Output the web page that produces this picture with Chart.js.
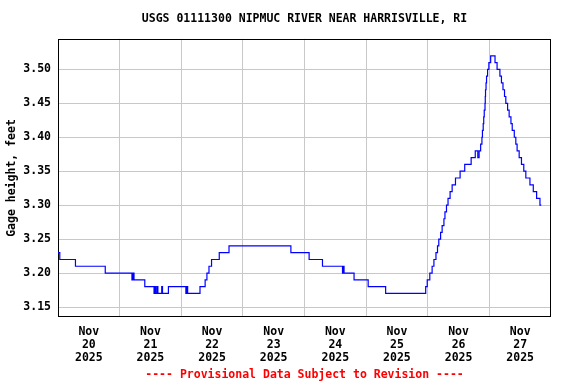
<!DOCTYPE html>
<html>
<head>
<meta charset="utf-8">
<script src="https://cdn.jsdelivr.net/npm/chart.js@4/dist/chart.umd.min.js"></script>
<style>
  html, body { margin: 0; padding: 0; background: #fff; }
  #wrap { width: 576px; height: 384px; }
</style>
</head>
<body>
<div id="wrap"><canvas id="c" width="576" height="384"></canvas></div>
<script>
// ---- data (hours since Nov 20 2025 00:00, gage height in feet; change points) ----
const hours = [
  0, 0.7, 6.8, 18.4, 28.8, 29.2, 29.6, 33.8, 37.4, 37.8, 38.1, 38.6, 38.9, 40.4, 40.7, 43.0,
  49.8, 50.1, 50.5, 55.3, 57.3, 58.0, 58.8, 59.8, 62.8, 66.6, 90.7, 97.8, 103.0, 110.8, 111.1,
  111.4, 115.3, 120.8, 127.6, 143.2, 143.8, 144.8, 145.7, 146.4, 147.2, 147.8, 148.3, 149.0,
  149.6, 150.3, 150.7, 151.3, 151.9, 152.7, 153.5, 154.8, 156.6, 158.4, 160.9, 162.5, 163.5,
  164.0, 164.6, 165.1, 165.3, 165.6, 165.8, 166.0, 166.3, 166.4, 166.5, 166.7, 166.9, 167.3,
  167.8, 168.5, 170.2, 171.0, 172.1, 172.7, 173.3, 173.9, 174.4, 175.1, 175.7, 176.4, 176.9,
  177.7, 178.3, 178.8, 179.6, 180.5, 181.4, 182.2, 183.8, 185.1, 186.4, 187.7, 188.2
];
const gage = [
  3.23, 3.22, 3.21, 3.20, 3.19, 3.20, 3.19, 3.18, 3.17, 3.18, 3.17, 3.18, 3.17, 3.18, 3.17, 3.18,
  3.17, 3.18, 3.17, 3.18, 3.19, 3.20, 3.21, 3.22, 3.23, 3.24, 3.23, 3.22, 3.21, 3.20, 3.21,
  3.20, 3.19, 3.18, 3.17, 3.18, 3.19, 3.20, 3.21, 3.22, 3.23, 3.24, 3.25, 3.26,
  3.27, 3.28, 3.29, 3.30, 3.31, 3.32, 3.33, 3.34, 3.35, 3.36, 3.37, 3.38, 3.37,
  3.38, 3.39, 3.40, 3.41, 3.42, 3.43, 3.44, 3.45, 3.46, 3.47, 3.48, 3.49, 3.50,
  3.51, 3.52, 3.51, 3.50, 3.49, 3.48, 3.47, 3.46, 3.45, 3.44, 3.43, 3.42, 3.41,
  3.40, 3.39, 3.38, 3.37, 3.36, 3.35, 3.34, 3.33, 3.32, 3.31, 3.30, 3.30
];
const dayGridHours = [24, 48, 72, 96, 120, 144, 168];
const dayLabelHours = [12, 36, 60, 84, 108, 132, 156, 180];
const dayLabels = [
  ['Nov', '20', '2025'], ['Nov', '21', '2025'], ['Nov', '22', '2025'], ['Nov', '23', '2025'],
  ['Nov', '24', '2025'], ['Nov', '25', '2025'], ['Nov', '26', '2025'], ['Nov', '27', '2025']
];
const yTicks = [3.15, 3.20, 3.25, 3.30, 3.35, 3.40, 3.45, 3.50];
const titleText = 'USGS 01111300 NIPMUC RIVER NEAR HARRISVILLE, RI';
const yAxisTitle = 'Gage height, feet';
const footerText = '---- Provisional Data Subject to Revision ----';

const FONT = { family: '"DejaVu Sans Mono", "Liberation Mono", monospace', size: 11.5, weight: 'bold' };

const centerTitles = {
  id: 'centerTitles',
  afterLayout(chart) {
    const a = chart.chartArea;
    chart.boxes.forEach(b => {
      if (b && b.options && typeof b.options.text === 'string' && b.isHorizontal && b.isHorizontal()) {
        b.left = a.left; b.right = a.right; b.width = a.right - a.left;
      }
    });
  }
};
const frame = {
  id: 'frame',
  beforeDatasetsDraw(chart) {
    const { ctx, chartArea: a } = chart;
    ctx.save();
    ctx.strokeStyle = '#000';
    ctx.lineWidth = 1;
    ctx.strokeRect(Math.round(a.left) + 0.5, Math.round(a.top) + 0.5,
      Math.round(a.right - a.left) - 1, Math.round(a.bottom - a.top) - 1);
    ctx.restore();
  }
};

new Chart(document.getElementById('c'), {
  type: 'line',
  data: {
    datasets: [{
      data: hours.map((h, i) => ({ x: h, y: gage[i] })),
      borderColor: '#0000ff',
      borderWidth: 1.2,
      pointRadius: 0,
      stepped: true,
      fill: false
    }]
  },
  options: {
    responsive: false,
    animation: false,
    devicePixelRatio: 1,
    layout: { padding: { left: 0, right: 25, top: 0, bottom: 0 } },
    plugins: {
      legend: { display: false },
      tooltip: { enabled: false },
      title: {
        display: true, text: titleText, color: '#000', font: FONT,
        padding: { top: 12, bottom: 13 }
      },
      subtitle: {
        display: true, text: footerText, color: '#ff0000', font: FONT,
        position: 'bottom', padding: { top: 5, bottom: 2 }
      }
    },
    scales: {
      x: {
        type: 'linear', min: 0, max: 192,
        afterBuildTicks: s => { s.ticks = dayGridHours.concat(dayLabelHours).sort((a, b) => a - b).map(v => ({ value: v })); },
        afterFit: s => { s.height = 46; },
        border: { display: false },
        grid: {
          drawTicks: false,
          color: c => (c.tick && dayGridHours.includes(c.tick.value)) ? '#c8c8c8' : 'rgba(0,0,0,0)',
          lineWidth: 1
        },
        ticks: {
          autoSkip: false, maxRotation: 0, minRotation: 0, padding: 8.5, color: '#000',
          font: Object.assign({}, FONT, { lineHeight: 13 / 11.5 }),
          callback: v => { const i = dayLabelHours.indexOf(v); return i >= 0 ? dayLabels[i] : ''; }
        }
      },
      y: {
        type: 'linear', min: 3.135, max: 3.545,
        afterBuildTicks: s => { s.ticks = yTicks.map(v => ({ value: v })); },
        afterFit: s => { s.width = 58; },
        border: { display: false },
        grid: { drawTicks: false, color: '#c8c8c8', lineWidth: 1 },
        ticks: { padding: 7, color: '#000', font: FONT, callback: v => v.toFixed(2) },
        title: { display: true, text: yAxisTitle, color: '#000', font: FONT, padding: { top: 5, bottom: 0 } }
      }
    }
  },
  plugins: [centerTitles, frame]
});
</script>
</body>
</html>
